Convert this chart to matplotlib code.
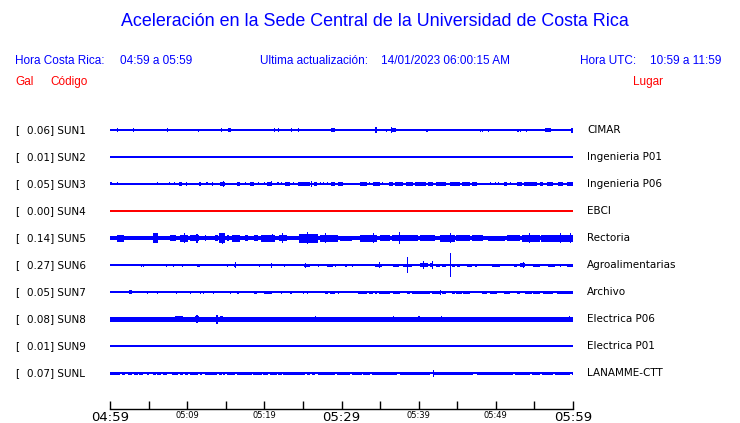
import numpy as np
import matplotlib
matplotlib.use("Agg")
import matplotlib.pyplot as plt

# --- DATA ---

stations = ["SUN1", "SUN2", "SUN3", "SUN4", "SUN5", "SUN6", "SUN7", "SUN8", "SUN9", "SUNL"]
peak_gal = [0.06, 0.01, 0.05, 0.00, 0.14, 0.27, 0.05, 0.08, 0.01, 0.07]
places = ["CIMAR", "Ingenieria P01", "Ingenieria P06", "EBCI", "Rectoria",
          "Agroalimentarias", "Archivo", "Electrica P06", "Electrica P01", "LANAMME-CTT"]
trace_colors = ["blue", "blue", "blue", "red", "blue", "blue", "blue", "blue", "blue", "blue"]
# baseline thickness of each trace (px)
base_px = [1.5, 1.5, 1.5, 1.5, 3.7, 1.5, 1.5, 3.4, 1.5, 1.5]

# bursts: (start minute, end minute, half amplitude px); minutes after 04:59
sun1_bursts = [(0.87, 0.87, 1.7), (3.0, 3.0, 1.7), (7.4, 7.4, 1.7), (11.4, 11.4, 1.5),
               (12.7, 12.7, 1.2), (14.4, 14.4, 1.7), (15.3, 15.7, 1.7), (21.2, 21.2, 1.7),
               (21.8, 21.8, 1.7), (23.5, 23.5, 1.7), (24.3, 24.3, 1.7), (25.6, 25.6, 1.2),
               (28.7, 29.2, 1.7), (30.5, 30.5, 1.0), (34.4, 34.4, 2.8), (35.8, 35.8, 1.5),
               (36.4, 37.0, 1.7), (36.4, 36.4, 2.8), (40.9, 40.9, 1.5), (41.1, 41.1, 1.5),
               (47.9, 47.9, 1.5), (48.2, 48.2, 1.5), (49.0, 49.0, 1.5), (51.6, 51.6, 1.0),
               (52.8, 52.8, 1.5), (53.1, 53.1, 1.5), (53.9, 53.9, 1.5), (56.4, 57.1, 1.7),
               (59.8, 60.0, 2.5)]
sun2_bursts = []
sun3_bursts = [(0.0, 0.2, 1.5), (0.86, 0.86, 1.5), (2.6, 2.6, 1.2), (4.75, 4.75, 1.0),
               (6.1, 6.1, 1.5), (6.9, 6.9, 1.2), (7.7, 7.7, 1.5), (8.3, 8.3, 1.5),
               (8.9, 9.3, 1.7), (9.8, 10.0, 1.7), (11.5, 11.75, 1.7), (12.5, 12.5, 1.5),
               (13.2, 13.2, 1.7), (14.25, 14.9, 1.7), (14.6, 14.6, 2.7), (16.4, 16.85, 1.7),
               (17.5, 17.5, 1.5), (18.2, 18.6, 1.7), (19.2, 19.2, 1.5), (19.9, 19.9, 1.5),
               (20.3, 20.95, 1.7), (20.8, 20.8, 2.5), (21.7, 21.7, 1.5), (22.2, 22.2, 1.5),
               (22.7, 23.3, 1.7), (23.75, 23.75, 1.5), (24.4, 25.9, 1.7), (26.0, 26.0, 2.7),
               (26.4, 26.8, 1.7), (27.2, 27.2, 1.5), (27.6, 27.6, 1.5), (28.1, 28.1, 1.5),
               (28.6, 29.15, 1.7), (29.6, 30.2, 1.7), (30.45, 31.3, 1.2), (32.4, 33.3, 1.7),
               (33.6, 33.6, 1.5), (34.1, 35.0, 1.7), (35.3, 35.3, 1.5), (36.1, 36.7, 1.7),
               (36.9, 38.0, 1.7), (38.4, 39.3, 1.7), (39.5, 41.0, 1.7), (41.25, 41.9, 1.7),
               (42.3, 43.6, 1.7), (44.1, 45.35, 1.7), (45.6, 46.65, 1.7), (46.9, 47.5, 1.7),
               (47.95, 47.95, 1.2), (49.2, 49.2, 1.5), (49.9, 49.9, 1.5), (50.3, 50.3, 1.5),
               (51.0, 51.4, 1.7), (51.8, 51.8, 1.5), (52.7, 53.35, 1.7), (53.6, 55.3, 1.7),
               (55.7, 56.15, 1.7), (56.6, 57.45, 1.7), (58.1, 58.7, 1.7), (59.2, 60.0, 1.7)]
sun4_bursts = []
sun5_bursts = [(0.87, 1.86, 3.5), (5.6, 6.2, 5.0), (7.8, 8.5, 3.0), (9.1, 10.15, 3.5),
               (9.6, 9.6, 5.0), (10.4, 11.5, 3.0), (11.2, 11.2, 4.5), (12.3, 12.3, 3.0),
               (13.6, 14.0, 3.0), (14.1, 14.9, 5.0), (14.5, 14.5, 5.5), (15.1, 15.4, 3.0),
               (15.8, 16.85, 3.5), (17.5, 17.9, 3.0), (18.6, 19.2, 3.0), (19.6, 21.4, 3.5),
               (20.95, 20.95, 4.0), (21.9, 22.9, 3.0), (22.3, 22.3, 5.0), (24.5, 27.0, 4.5),
               (25.5, 25.5, 6.0), (27.2, 29.6, 3.5), (27.9, 27.9, 5.0), (29.8, 31.3, 2.5),
               (32.4, 34.55, 3.5), (34.1, 34.1, 5.0), (35.0, 36.3, 3.0), (36.5, 37.4, 3.0),
               (37.5, 37.5, 6.0), (37.6, 39.95, 3.0), (40.2, 42.1, 3.0), (42.8, 44.7, 3.5),
               (44.0, 44.0, 5.0), (44.9, 46.65, 3.0), (46.9, 48.4, 3.0), (49.0, 51.2, 2.5),
               (51.4, 53.1, 3.0), (53.35, 55.7, 3.5), (54.3, 54.3, 5.0), (55.9, 60.0, 3.5),
               (58.3, 58.3, 5.0), (59.6, 59.6, 5.0)]
sun6_bursts = [(4.0, 4.0, 1.5), (4.3, 4.3, 1.5), (4.5, 4.5, 1.2), (6.7, 6.7, 1.0),
               (7.3, 7.3, 1.5), (8.2, 8.2, 1.5), (9.3, 9.3, 1.5), (10.9, 10.9, 1.2),
               (11.3, 11.65, 1.5), (15.2, 15.2, 1.5), (16.1, 16.3, 1.5), (16.2, 16.2, 3.0),
               (19.35, 19.35, 1.5), (20.8, 20.95, 1.5), (20.9, 20.9, 2.5), (22.5, 22.5, 1.5),
               (23.2, 23.2, 1.0), (24.4, 24.4, 1.2), (25.1, 25.9, 1.5), (25.3, 25.3, 2.5),
               (27.0, 27.0, 1.5), (28.1, 28.9, 1.5), (29.2, 29.2, 1.5), (30.4, 30.7, 1.5),
               (31.3, 31.5, 1.5), (32.6, 32.6, 1.2), (33.0, 33.0, 1.2), (33.5, 33.5, 1.2),
               (34.3, 35.2, 1.5), (34.8, 34.8, 2.8), (36.7, 37.4, 1.5), (38.0, 39.1, 1.5),
               (38.45, 38.45, 8.0), (40.2, 41.25, 1.7), (40.5, 40.5, 4.0), (41.5, 41.9, 1.7),
               (41.7, 41.7, 4.0), (42.3, 42.8, 1.5), (43.0, 43.6, 1.5), (44.0, 44.15, 12.3),
               (44.3, 44.7, 1.5), (45.0, 45.35, 1.5), (46.2, 46.9, 1.5), (47.3, 47.6, 1.5),
               (47.9, 47.9, 1.2), (49.5, 50.5, 1.5), (51.0, 51.0, 1.2), (51.6, 51.6, 1.2),
               (52.3, 52.7, 1.5), (53.1, 53.8, 1.7), (53.5, 53.5, 3.0), (54.85, 55.7, 1.5),
               (56.8, 57.7, 1.5), (58.3, 58.3, 1.5), (59.2, 60.0, 1.5)]
sun7_bursts = [(2.4, 2.8, 1.7), (4.3, 4.3, 1.2), (4.75, 4.96, 1.5), (6.05, 6.05, 1.5),
               (8.5, 8.5, 1.5), (10.4, 10.4, 1.5), (11.7, 11.7, 1.5), (12.1, 12.1, 1.5),
               (13.3, 13.3, 1.5), (14.55, 14.55, 1.0), (15.55, 15.55, 1.5), (16.5, 16.75, 1.5),
               (18.05, 18.05, 1.2), (18.6, 19.0, 1.5), (19.9, 20.95, 1.5), (22.1, 22.1, 1.5),
               (23.3, 23.6, 1.5), (24.2, 24.2, 1.0), (25.0, 25.0, 1.5), (25.5, 25.7, 1.5),
               (26.1, 26.1, 1.2), (27.9, 28.3, 1.5), (28.5, 29.15, 1.5), (29.6, 29.6, 1.5),
               (30.45, 30.45, 1.0), (30.9, 30.9, 1.0), (31.3, 31.3, 1.0), (32.2, 33.3, 1.5),
               (33.5, 34.1, 1.5), (34.3, 34.6, 1.5), (34.8, 36.3, 1.5), (36.7, 37.6, 1.5),
               (38.45, 38.9, 1.5), (39.1, 41.5, 1.5), (41.7, 42.8, 1.5), (42.8, 42.8, 2.5),
               (43.0, 43.6, 1.5), (44.3, 44.7, 1.5), (44.9, 45.6, 1.5), (45.8, 46.65, 1.5),
               (48.2, 48.8, 1.5), (49.2, 50.1, 1.5), (51.0, 51.8, 1.5), (52.7, 53.1, 1.5),
               (53.8, 54.65, 1.5), (54.85, 55.7, 1.5), (56.15, 57.45, 1.5), (57.9, 60.0, 1.5)]
sun8_bursts = [(0.0, 2.4, 2.3), (8.4, 9.5, 3.0), (11.0, 11.5, 3.0),
               (11.2, 11.2, 4.0), (12.3, 12.7, 2.5), (13.8, 14.0, 4.5), (14.25, 14.7, 3.0),
               (16.75, 16.75, 2.3), (18.4, 18.4, 2.5), (26.6, 26.6, 3.0), (36.7, 36.7, 3.0),
               (39.95, 40.2, 3.0), (42.9, 42.9, 3.0), (58.75, 58.75, 2.5), (59.5, 59.5, 3.0)]
# thin stretch on the SUN8 baseline, with small marks in it
sun8_gaps = [(2.4, 3.9)]
sun8_gap_marks = [(2.6, 2.6, 1.5), (3.0, 3.0, 1.5), (3.3, 3.5, 1.5)]
sun9_bursts = [(41.1, 41.1, 1.0)]
sunl_bursts = [(0.0, 1.3, 1.5), (1.51, 1.94, 1.5), (2.29, 2.81, 1.5), (3.15, 3.59, 1.5),
               (3.76, 4.32, 1.5), (4.75, 5.05, 1.5), (5.53, 5.92, 1.5), (6.05, 6.61, 1.5),
               (6.91, 7.34, 1.5), (7.99, 8.86, 1.5), (9.07, 9.5, 1.5), (9.72, 10.15, 1.5),
               (10.37, 11.45, 1.5), (11.66, 11.88, 1.5), (12.31, 13.82, 1.5), (14.17, 14.47, 1.5),
               (14.69, 14.9, 1.5), (15.2, 16.2, 1.5), (16.41, 18.36, 1.5), (18.57, 19.65, 1.5),
               (19.87, 20.52, 1.5), (20.73, 21.6, 1.5), (21.81, 22.25, 1.5), (22.46, 25.27, 1.5),
               (25.49, 25.92, 1.5), (26.13, 26.57, 1.5), (27.0, 29.16, 1.5), (29.37, 30.45, 1.5),
               (30.45, 31.1, 1.5), (31.31, 32.6, 1.5), (32.82, 33.69, 1.5), (33.9, 37.14, 1.5),
               (37.58, 41.46, 1.5), (41.8, 41.8, 3.5), (41.9, 47.08, 1.5), (47.51, 52.26, 1.5),
               (52.48, 54.42, 1.5), (54.64, 55.72, 1.5), (55.93, 57.45, 1.5), (57.66, 59.6, 1.5),
               (59.82, 60.0, 1.5)]

all_bursts = [sun1_bursts, sun2_bursts, sun3_bursts, sun4_bursts, sun5_bursts,
              sun6_bursts, sun7_bursts, sun8_bursts, sun9_bursts, sunl_bursts]

tick_minutes = np.arange(0, 61, 5)
tick_labels = {0: "04:59", 10: "05:09", 20: "05:19", 30: "05:29",
               40: "05:39", 50: "05:49", 60: "05:59"}
big_ticks = [0, 30, 60]

# --- FIGURE ---

W, H = 740, 423
fig = plt.figure(figsize=(W / 100, H / 100), dpi=100)

def px(x, y):
    return x / W, 1 - y / H

# trace area: x 110..573 px, y 117..409 px; y data in pixel rows
ax = fig.add_axes([110 / W, (H - 409) / H, 463 / W, 292 / H])
ax.set_xlim(0, 60)
ax.set_ylim(409, 117)
for s in ["top", "left", "right"]:
    ax.spines[s].set_visible(False)
ax.spines["bottom"].set_linewidth(1.0)
ax.set_yticks([])

row0, row_step = 130, 27
for i, bursts in enumerate(all_bursts):
    y0 = row0 + row_step * i
    c = trace_colors[i]
    ax.plot([0, 60], [y0, y0], color=c, lw=base_px[i] * 0.72,
            solid_capstyle="butt", antialiased=False)
    if i == 7:
        for g0, g1 in sun8_gaps:
            ax.bar(g0, base_px[i] + 0.4, width=g1 - g0, bottom=y0 - (base_px[i] + 0.4) / 2,
                   align="edge", color="white", linewidth=0, antialiased=False)
            ax.plot([g0, g1], [y0, y0], color=c, lw=1.5 * 0.72, antialiased=False)
        bursts = bursts + sun8_gap_marks
    if bursts:
        b = np.array(bursts, dtype=float)
        widths = np.maximum(b[:, 1] - b[:, 0], 0.14)
        ax.bar(b[:, 0], 2 * b[:, 2], width=widths, bottom=y0 - b[:, 2], align="edge",
               color=c, linewidth=0, antialiased=False)

    lab_y = 1 - y0 / H
    fig.text(15 / W, lab_y, "[", fontsize=7.5, va="center", ha="left")
    fig.text(27 / W, lab_y, f"{peak_gal[i]:.2f}] {stations[i]}", fontsize=7.5,
             va="center", ha="left")
    fig.text(587 / W, lab_y, places[i], fontsize=7.5, va="center", ha="left")

ax.set_xticks(tick_minutes)
ax.set_xticklabels([tick_labels.get(int(t), "") for t in tick_minutes])
ax.tick_params(axis="x", direction="in", length=6, width=1.0, pad=1.5)
for t, lab in zip(tick_minutes, ax.get_xticklabels()):
    if int(t) in big_ticks:
        lab.set_fontsize(9.5)
    else:
        lab.set_fontsize(6)

# header texts
hfont = "Liberation Sans"
fig.text(*px(375, 22), "Aceleración en la Sede Central de la Universidad de Costa Rica",
         color="blue", fontsize=12.9, family=hfont, ha="center", va="center")
fig.text(*px(15, 61), "Hora Costa Rica:", color="blue", fontsize=8.5, family=hfont, va="center")
fig.text(*px(120, 61), "04:59 a 05:59", color="blue", fontsize=8.5, family=hfont, va="center")
fig.text(*px(260, 61), "Ultima actualización:", color="blue", fontsize=8.5, family=hfont, va="center")
fig.text(*px(381, 61), "14/01/2023 06:00:15 AM", color="blue", fontsize=8.5, family=hfont, va="center")
fig.text(*px(580, 61), "Hora UTC:", color="blue", fontsize=8.5, family=hfont, va="center")
fig.text(*px(650, 61), "10:59 a 11:59", color="blue", fontsize=8.5, family=hfont, va="center")
fig.text(*px(15, 82), "Gal", color="red", fontsize=8.5, family=hfont, va="center")
fig.text(*px(50, 82), "Código", color="red", fontsize=8.5, family=hfont, va="center")
fig.text(*px(663, 82), "Lugar", color="red", fontsize=8.5, family=hfont, va="center", ha="right")

fig.savefig("out.png", dpi=100)
